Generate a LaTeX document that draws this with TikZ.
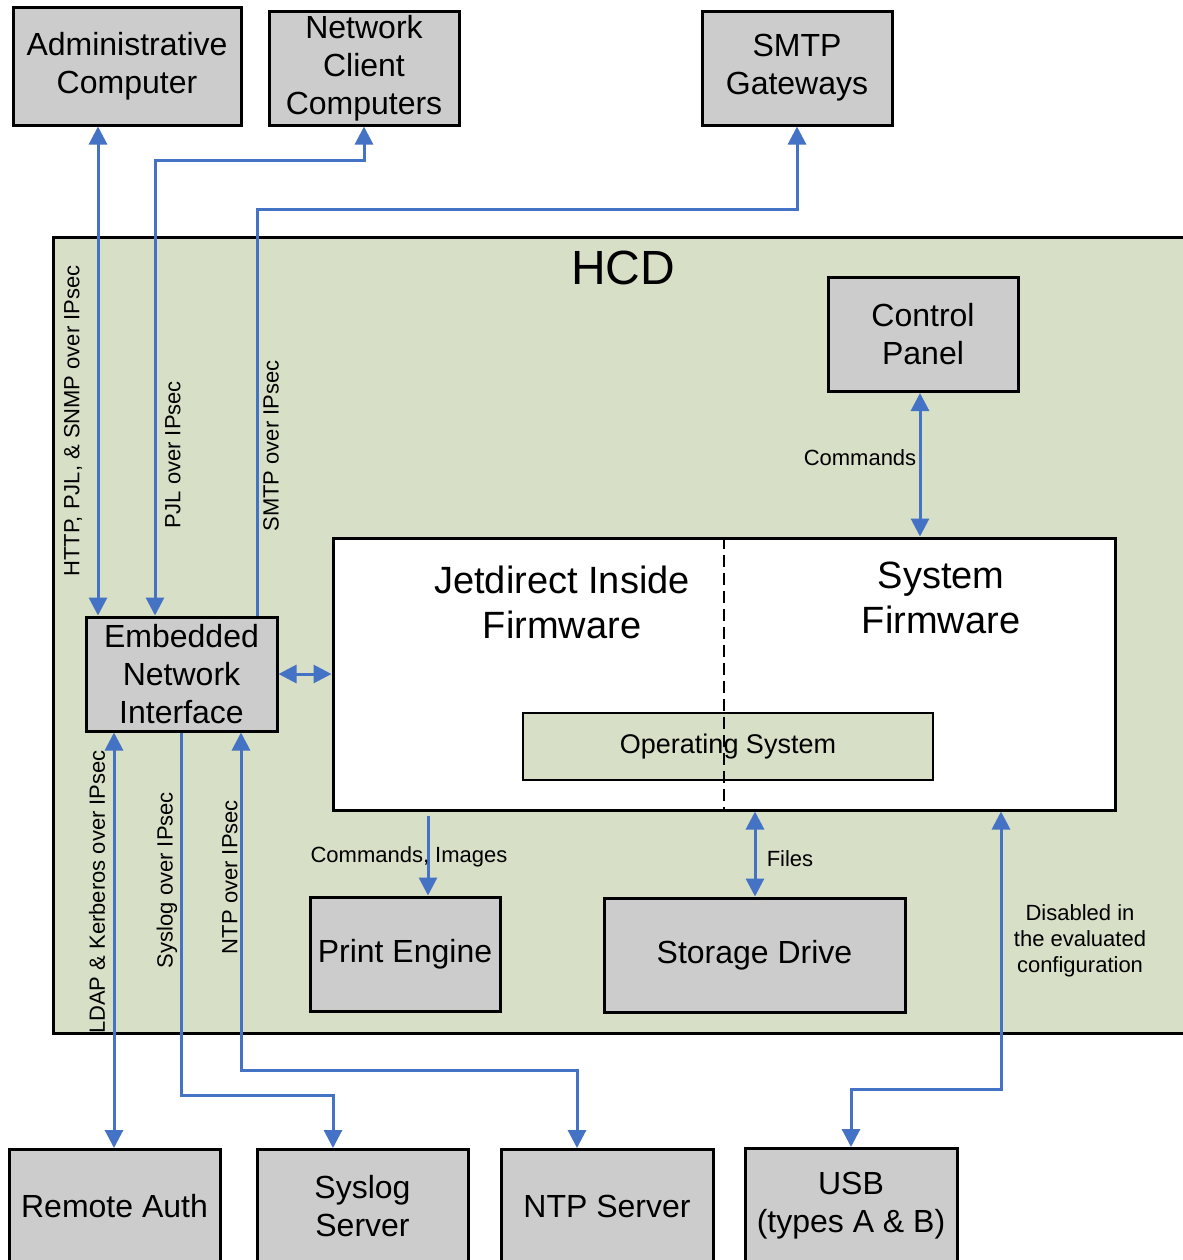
\documentclass[tikz,border=0pt]{standalone}
\usepackage{fontspec}
\setmainfont{Liberation Sans}
\usepackage{tikz}
\usetikzlibrary{arrows.meta, positioning, calc}
\definecolor{hcdcolor}{RGB}{216, 223, 199}
\definecolor{boxcolor}{RGB}{204, 204, 204}
\definecolor{linkcolor}{RGB}{68, 114, 196}

\begin{document}
\begin{tikzpicture}[
    x=0.5pt, y=-0.5pt,
    unit/.style={draw, line width=1.5pt, fill=boxcolor, align=center, inner sep=0pt, font=\fontsize{16}{19}\selectfont},
    link/.style={draw=linkcolor, line width=1.5pt, {Triangle[width=9pt,length=9pt]}-{Triangle[width=9pt,length=9pt]}},
    oneway/.style={draw=linkcolor, line width=1.5pt, -{Triangle[width=9pt,length=9pt]}},
    lbl/.style={font=\fontsize{11}{13}\selectfont, inner sep=1pt},
]
    \useasboundingbox (0,0) rectangle (1183,1260);

    % HCD
    \node[draw, line width=1.5pt, fill=hcdcolor, minimum width=610pt, minimum height=398pt, anchor=north west, inner sep=0pt] (hcd) at (52,236) {};
    \node[font=\fontsize{24}{28}\selectfont] (hcdname) at (623,268) {HCD};

    % External systems
    \node[unit, minimum width=114pt, minimum height=59pt] (admin) at (127,66) {Administrative\\Computer};
    \node[unit, minimum width=95pt, minimum height=57pt] (client) at (364,68) {Network\\Client\\Computers};
    \node[unit, minimum width=95pt, minimum height=57pt] (smtp) at (797,68) {SMTP\\Gateways};
    \node[unit, minimum width=105.5pt, minimum height=57pt, anchor=north] (auth) at (114.5,1148) {Remote Auth};
    \node[unit, minimum width=105.5pt, minimum height=57pt, anchor=north] (syslog) at (362.5,1148) {Syslog\\Server};
    \node[unit, minimum width=106pt, minimum height=57pt, anchor=north] (ntp) at (607,1148) {NTP Server};
    \node[unit, minimum width=106pt, minimum height=57pt, anchor=north] (usb) at (851,1147) {USB\\(types A \& B)};

    % Inside the HCD
    \node[unit, minimum width=95pt, minimum height=57pt] (panel) at (923,334.5) {Control\\Panel};
    \node[unit, minimum width=95.5pt, minimum height=57pt] (eni) at (181.5,674) {Embedded\\Network\\Interface};
    \node[unit, minimum width=95pt, minimum height=57pt] (engine) at (405,954) {Print Engine};
    \node[unit, minimum width=150.5pt, minimum height=57pt] (storage) at (754.5,955) {Storage Drive};

    % Firmware
    \node[draw, line width=1.5pt, fill=white, minimum width=391pt, minimum height=136pt, inner sep=0pt] (fw) at (724,674) {};
    \node[draw, line width=0.75pt, fill=hcdcolor, minimum width=205pt, minimum height=33.5pt, inner sep=0pt, font=\fontsize{13.5}{16}\selectfont] (os) at (728,746.5) {Operating System};
    \draw[line width=0.75pt, dash pattern=on 6pt off 3pt] (fw.north) -- (fw.south);
    \node[align=center, font=\fontsize{19}{22.5}\selectfont] (jdi) at (562,602) {Jetdirect Inside\\Firmware};
    \node[align=center, font=\fontsize{19}{22.5}\selectfont] (sysfw) at (941,598) {System\\Firmware};

    % Network connections
    \draw[link] (98,0 |- admin.south) -- (98,0 |- eni.north);
    \draw[link] (155,0 |- eni.north) |- (0,160 -| client.south) -- (client.south);
    \draw[oneway] (257,0 |- eni.north) |- (0,209 -| smtp.south) -- (smtp.south);
    \draw[link] (114,0 |- eni.south) -- (114,0 |- auth.north);
    \draw[oneway] (181,0 |- eni.south) |- (333,1095) -- (333,0 |- syslog.north);
    \draw[link] (241,0 |- eni.south) |- (577,1070) -- (577,0 |- ntp.north);

    % Internal connections
    \draw[link] (eni.east) -- (fw.west |- eni.east);
    \draw[link] (920,0 |- panel.south) -- (920,0 |- fw.north);
    \draw[oneway] ($(428,0 |- fw.south)+(0,4)$) -- (428,0 |- engine.north);
    \draw[link] (755,0 |- fw.south) -- (755,0 |- storage.north);
    \draw[link] (1001,0 |- fw.south) |- (0,1089 -| usb.north) -- (usb.north);

    % Labels
    \node[lbl, rotate=90] (l1) at (73,421) {HTTP, PJL, \& SNMP over IPsec};
    \node[lbl, rotate=90] (l2) at (173,455) {PJL over IPsec};
    \node[lbl, rotate=90] (l3) at (271,446) {SMTP over IPsec};
    \node[lbl, rotate=90] (l4) at (97,892) {LDAP \& Kerberos over IPsec};
    \node[lbl, rotate=90] (l5) at (167,880) {Syslog over IPsec};
    \node[lbl, rotate=90] (l6) at (230,877) {NTP over IPsec};
    \node[lbl] (l7) at (860,458) {Commands};
    \node[lbl] (l8) at (409,857) {Commands, Images};
    \node[lbl] (l9) at (790,859) {Files};
    \node[lbl, align=center] (l10) at (1080,941) {Disabled in\\the evaluated\\configuration};
\end{tikzpicture}
\end{document}
